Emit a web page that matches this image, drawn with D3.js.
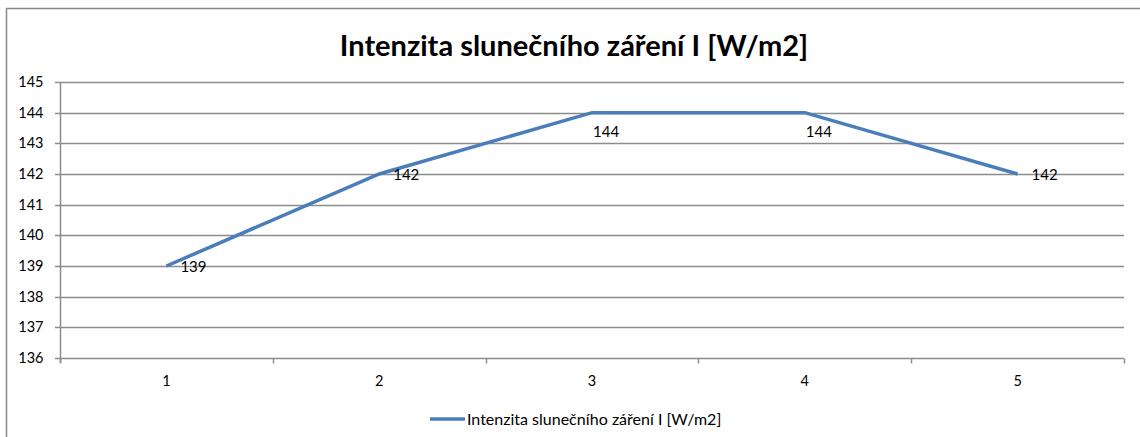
<!DOCTYPE html>
<html>
<head>
<meta charset="utf-8">
<script src="https://cdn.jsdelivr.net/npm/d3@7"></script>
<style>
  body { margin: 0; background: #fff; }
  svg { display: block; font-family: Lato, "Open Sans", sans-serif; }
</style>
</head>
<body>
<svg id="chart" width="1140" height="437"></svg>
<script>
var title = 'Intenzita slunečního záření I [W/m2]'
var categories = ['1', '2', '3', '4', '5']
var values = [139, 142, 144, 144, 142]
var yTicks = [136, 137, 138, 139, 140, 141, 142, 143, 144, 145]

var lineColor = '#4a7ebb'
var gridColor = '#8c8c8c'

var svg = d3.select('#chart')
var margin = { left: 60, right: 1124, top: 82, bottom: 358 }

// outer chart frame (runs off the right/bottom of the window)
svg.append('rect')
  .attr('x', 6.5).attr('y', 8.5)
  .attr('width', 1200).attr('height', 500)
  .attr('fill', 'none').attr('stroke', '#888').attr('stroke-width', 1.5)

svg.append('text')
  .attr('x', 574).attr('y', 56)
  .attr('text-anchor', 'middle')
  .attr('font-size', 29).attr('font-weight', 'bold')
  .attr('fill', '#000')
  .text(title)

var x = d3.scaleBand().domain(categories).range([margin.left, margin.right])
var y = d3.scaleLinear().domain([136, 145]).range([margin.bottom, margin.top])

// gridlines
svg.append('g').selectAll('line').data(yTicks).join('line')
  .attr('x1', margin.left - 5).attr('x2', margin.right)
  .attr('y1', function (d) { return Math.round(y(d)) + 0.5 })
  .attr('y2', function (d) { return Math.round(y(d)) + 0.5 })
  .attr('stroke', gridColor).attr('stroke-width', 1.5)

// y axis
var yAxis = svg.append('g')
  .attr('transform', 'translate(' + (margin.left + 0.5) + ',0)')
  .call(d3.axisLeft(y).tickValues(yTicks).tickSize(5).tickPadding(12))
yAxis.select('.domain').attr('stroke', gridColor).attr('stroke-width', 1.5)
  .attr('d', 'M0,' + margin.top + 'V' + (margin.bottom + 5))
yAxis.selectAll('.tick line').remove()
yAxis.selectAll('text').attr('font-size', 14.5).attr('fill', '#000')
  .attr('font-family', 'Lato, "Open Sans", sans-serif')

// x axis
var xAxis = svg.append('g')
  .attr('transform', 'translate(0,' + (Math.round(y(136)) + 0.5) + ')')
  .call(d3.axisBottom(x).tickSize(0).tickPadding(17))
xAxis.select('.domain').remove()
xAxis.selectAll('text').attr('font-size', 14.5).attr('fill', '#000')
  .attr('font-family', 'Lato, "Open Sans", sans-serif')
var edges = categories.map(function (c) { return x(c) }).concat([margin.right])
xAxis.append('g').selectAll('line').data(edges).join('line')
  .attr('x1', function (d) { return Math.round(d) + 0.5 })
  .attr('x2', function (d) { return Math.round(d) + 0.5 })
  .attr('y1', 0).attr('y2', 5)
  .attr('stroke', gridColor).attr('stroke-width', 1.5)

// series line
var cx = function (i) { return x(categories[i]) + x.bandwidth() / 2 }
var line = d3.line()
  .x(function (d, i) { return cx(i) })
  .y(function (d) { return y(d) })
svg.append('path').datum(values)
  .attr('d', line)
  .attr('fill', 'none').attr('stroke', lineColor).attr('stroke-width', 3.5)

// data labels (the ones on the top plateau sit under the line)
var vmax = d3.max(values)
svg.append('g').selectAll('text').data(values).join('text')
  .attr('x', function (d, i) { return d === vmax ? cx(i) + 1 : cx(i) + 14 })
  .attr('y', function (d) { return d === vmax ? y(d) + 24 : y(d) + 6 })
  .attr('font-size', 15).attr('fill', '#000')
  .text(function (d) { return d })

// legend
var legend = svg.append('g').attr('transform', 'translate(430,419)')
legend.append('line').attr('x1', 0).attr('x2', 35).attr('y1', 0).attr('y2', 0)
  .attr('stroke', lineColor).attr('stroke-width', 3.5)
legend.append('text').attr('x', 37).attr('y', 5.5)
  .attr('font-size', 16).attr('fill', '#000')
  .text(title)
</script>
</body>
</html>
